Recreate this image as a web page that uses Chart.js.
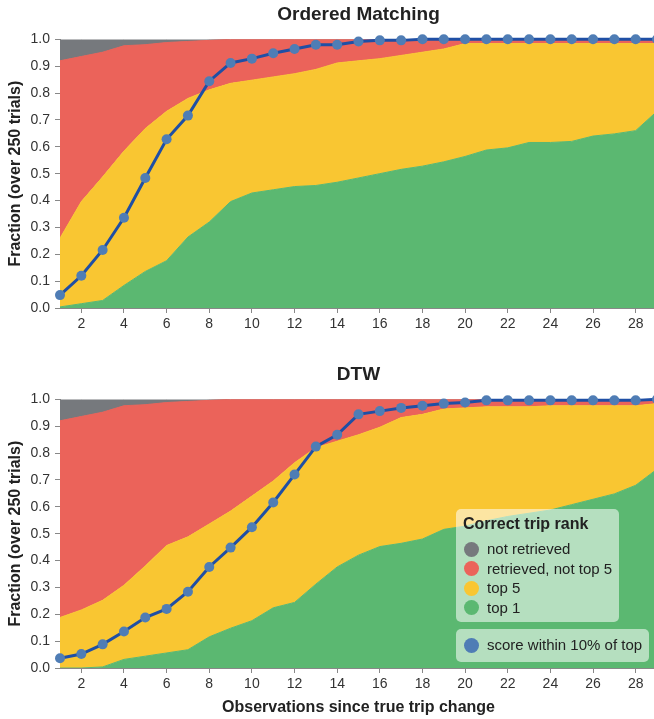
<!DOCTYPE html>
<html>
<head>
<meta charset="utf-8">
<script src="https://cdn.jsdelivr.net/npm/chart.js@4.4.1/dist/chart.umd.min.js"></script>
<style>
	html, body { margin: 0; padding: 0; background: #fff; overflow: hidden; width: 654px; height: 719px; }
	#wrap { position: relative; width: 654px; height: 719px; overflow: hidden; }
	canvas { position: absolute; left: 0; }
	#c1 { top: 0; }
	#c2 { top: 360px; }
	.legend { position: absolute; background: rgba(255, 255, 255, 0.55); border-radius: 5px;
		font-family: 'Liberation Sans', Arial, sans-serif; color: #222; }
	.legend .title { position: absolute; left: 7px; top: 5px; font-size: 16px; font-weight: bold; line-height: 20px; white-space: nowrap; }
	.legend .row { position: absolute; left: 0; height: 20px; line-height: 20px; font-size: 15px; white-space: nowrap; }
	.legend .dot { position: absolute; left: 8px; top: 2.5px; width: 15px; height: 15px; border-radius: 50%; }
	.legend .txt { position: absolute; left: 31px; top: 0; }
</style>
</head>
<body>
<div id="wrap">
	<canvas id="c1" width="657" height="340"></canvas>
	<canvas id="c2" width="657" height="359"></canvas>
	<div class="legend" id="leg1" style="left:456px; top:509px; width:163px; height:113px;"></div>
	<div class="legend" id="leg2" style="left:456px; top:629px; width:193px; height:33px;"></div>
</div>
<script>
// observations since true trip change
const xs = [1, 2, 3, 4, 5, 6, 7, 8, 9, 10, 11, 12, 13, 14, 15, 16, 17, 18, 19, 20, 21, 22, 23, 24, 25, 26, 27, 28, 29];
const xTicks = [2, 4, 6, 8, 10, 12, 14, 16, 18, 20, 22, 24, 26, 28];
const yTicks = [0, 0.1, 0.2, 0.3, 0.4, 0.5, 0.6, 0.7, 0.8, 0.9, 1.0];

// Ordered Matching (cumulative fractions)
const omTop1 = [0.004, 0.016, 0.028, 0.084, 0.136, 0.176, 0.264, 0.320, 0.396, 0.428, 0.440, 0.452, 0.456, 0.468, 0.484, 0.500, 0.516, 0.528, 0.544, 0.564, 0.588, 0.596, 0.616, 0.616, 0.620, 0.640, 0.648, 0.660, 0.732];
const omTop5 = [0.260, 0.396, 0.488, 0.584, 0.668, 0.732, 0.780, 0.812, 0.836, 0.848, 0.860, 0.872, 0.888, 0.912, 0.920, 0.928, 0.940, 0.952, 0.964, 0.984, 0.984, 0.984, 0.984, 0.984, 0.984, 0.984, 0.984, 0.984, 0.984];
const omRetrieved = [0.920, 0.936, 0.952, 0.976, 0.980, 0.988, 0.992, 0.996, 1, 1, 1, 1, 1, 1, 1, 1, 1, 1, 1, 1, 1, 1, 1, 1, 1, 1, 1, 1, 1];
const omScore = [0.048, 0.120, 0.216, 0.336, 0.484, 0.628, 0.716, 0.844, 0.912, 0.928, 0.948, 0.964, 0.980, 0.980, 0.992, 0.996, 0.996, 1, 1, 1, 1, 1, 1, 1, 1, 1, 1, 1, 1];

// DTW (cumulative fractions)
const dtwTop1 = [0, 0, 0.004, 0.032, 0.044, 0.056, 0.068, 0.116, 0.148, 0.176, 0.224, 0.244, 0.312, 0.376, 0.420, 0.452, 0.464, 0.480, 0.516, 0.528, 0.548, 0.564, 0.576, 0.588, 0.608, 0.628, 0.648, 0.680, 0.740];
const dtwTop5 = [0.188, 0.216, 0.252, 0.308, 0.380, 0.456, 0.488, 0.536, 0.584, 0.640, 0.696, 0.764, 0.820, 0.844, 0.868, 0.896, 0.932, 0.944, 0.964, 0.968, 0.972, 0.972, 0.972, 0.976, 0.976, 0.976, 0.976, 0.976, 0.984];
const dtwRetrieved = [0.920, 0.936, 0.952, 0.976, 0.980, 0.988, 0.992, 0.996, 1, 1, 1, 1, 1, 1, 1, 1, 1, 1, 1, 1, 1, 1, 1, 1, 1, 1, 1, 1, 1];
const dtwScore = [0.036, 0.052, 0.088, 0.136, 0.188, 0.220, 0.284, 0.376, 0.448, 0.524, 0.616, 0.720, 0.824, 0.868, 0.944, 0.956, 0.968, 0.976, 0.984, 0.988, 0.996, 0.996, 0.996, 0.996, 0.996, 0.996, 0.996, 0.996, 1];

const rankLabels = ['not retrieved', 'retrieved, not top 5', 'top 5', 'top 1'];
const rankColors = ['#76797d', '#eb635a', '#f9c632', '#5bb871'];
const scoreLabel = 'score within 10% of top';
const lineColor = '#1f4fa5';
const pointColor = '#4f7db5';

Chart.defaults.font.family = "'Liberation Sans', Arial, sans-serif";
Chart.defaults.color = '#333';

function pts(arr) {
	return arr.map((v, i) => ({ x: xs[i], y: v }));
}

function area(label, data, color, fill) {
	return {
		label: label,
		data: pts(data),
		backgroundColor: color,
		borderColor: color,
		borderWidth: 1,
		pointRadius: 0,
		fill: fill,
		tension: 0,
		order: 1
	};
}

function makePanel(id, title, top1, top5, retrieved, score, showXTitle) {
	return new Chart(document.getElementById(id), {
		type: 'line',
		data: {
			datasets: [
				area(rankLabels[3], top1, rankColors[3], 'origin'),
				area(rankLabels[2], top5, rankColors[2], '-1'),
				area(rankLabels[1], retrieved, rankColors[1], '-1'),
				area(rankLabels[0], retrieved, rankColors[0], 'end'),
				{
					label: scoreLabel,
					data: pts(score),
					borderColor: lineColor,
					borderWidth: 3,
					pointRadius: 5,
					pointBackgroundColor: pointColor,
					pointBorderWidth: 0,
					fill: false,
					clip: false,
					tension: 0,
					order: 0
				}
			]
		},
		options: {
			responsive: false,
			animation: false,
			layout: { padding: 0, autoPadding: false },
			plugins: {
				legend: { display: false },
				tooltip: { enabled: false },
				title: {
					display: true,
					text: title,
					fullSize: false,
					color: '#222',
					font: { size: 19, weight: 'bold' },
					padding: { top: 3, bottom: 13.5 }
				}
			},
			scales: {
				x: {
					type: 'linear',
					min: 1,
					max: 29,
					z: 1,
					afterBuildTicks: s => { s.ticks = xTicks.map(v => ({ value: v })); },
					afterFit: s => { s.height = showXTitle ? 51 : 32; },
					ticks: { font: { size: 14 }, padding: 3, maxRotation: 0 },
					grid: { color: 'rgba(0,0,0,0.08)', tickColor: '#888', tickLength: 5 },
					border: { color: '#888' },
					title: {
						display: showXTitle,
						text: 'Observations since true trip change',
						color: '#222',
						font: { size: 16, weight: 'bold' },
						padding: { top: 0, bottom: 2 }
					}
				},
				y: {
					min: 0,
					max: 1,
					z: 1,
					afterBuildTicks: s => { s.ticks = yTicks.map(v => ({ value: v })); },
					afterFit: s => { s.width = 60; },
					ticks: { font: { size: 14 }, padding: 5, callback: v => v.toFixed(1) },
					grid: { color: 'rgba(0,0,0,0.08)', tickColor: '#888', tickLength: 5 },
					border: { color: '#888' },
					title: {
						display: true,
						text: 'Fraction (over 250 trials)',
						color: '#222',
						font: { size: 16, weight: 'bold' },
						padding: { top: 6, bottom: 0 }
					}
				}
			}
		}
	});
}

makePanel('c1', 'Ordered Matching', omTop1, omTop5, omRetrieved, omScore, false);
makePanel('c2', 'DTW', dtwTop1, dtwTop5, dtwRetrieved, dtwScore, true);

// legend boxes
let leg1 = document.getElementById('leg1');
let html = '<div class="title">Correct trip rank</div>';
rankLabels.forEach((lab, i) => {
	html += '<div class="row" style="top:' + (30 + i * 19.5) + 'px"><span class="dot" style="background:' + rankColors[i] + '"></span><span class="txt">' + lab + '</span></div>';
});
leg1.innerHTML = html;
document.getElementById('leg2').innerHTML =
	'<div class="row" style="top:6px"><span class="dot" style="background:' + pointColor + '"></span><span class="txt">' + scoreLabel + '</span></div>';
</script>
</body>
</html>
